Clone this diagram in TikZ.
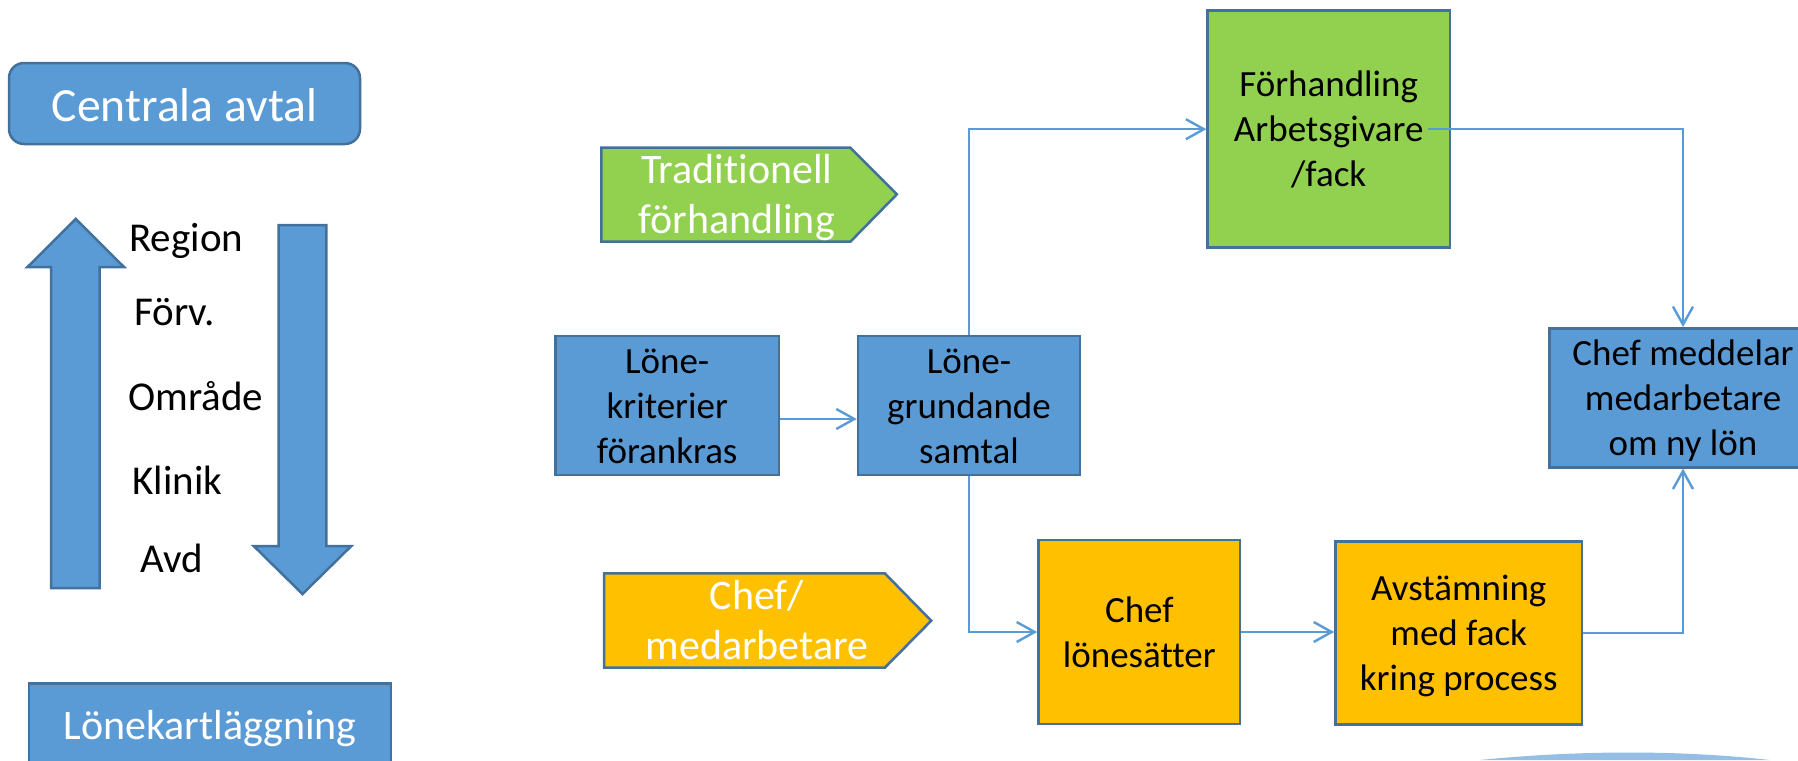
\documentclass[tikz,border=0pt]{standalone}
\usepackage{fontspec}
\setmainfont{Carlito}[Ligatures=NoCommon]
\usetikzlibrary{arrows.meta,calc}
\definecolor{bfill}{HTML}{5B9BD5}
\definecolor{bline}{HTML}{41719C}
\definecolor{gfill}{HTML}{92D050}
\definecolor{ofill}{HTML}{FFC000}
\newcommand\bst{\rule[-5pt]{0pt}{22.5pt}}
\newcommand\wst{\rule[-5.85pt]{0pt}{25pt}}
\tikzset{
 boxbase/.style={draw=bline, line width=1.25pt, inner sep=0pt},
 bluebox/.style={boxbase, fill=bfill},
 greenbox/.style={boxbase, fill=gfill},
 goldbox/.style={boxbase, fill=ofill},
 btext/.style={font=\fontsize{18.5pt}{22.5pt}\selectfont, text=black, align=center},
 wtext/.style={font=\fontsize{21pt}{25pt}\selectfont, text=white, align=center, inner sep=0pt},
 lvl/.style={font=\fontsize{20.5pt}{24pt}\selectfont, anchor=base west, inner sep=0pt},
 flow/.style={draw=bfill, line width=1.2pt, -{Straight Barb[length=9pt,width=10pt]}},
 blockarrow/.style={fill=bfill, draw=bline, line width=1.25pt, line join=miter},
 tagshape/.style={draw=bline, line width=1.25pt, line join=miter},
}
\begin{document}
\begin{tikzpicture}[x=0.5pt,y=-0.5pt]
\useasboundingbox (0,0) rectangle (1798,760);
\clip (0,0) rectangle (1798,760);
\fill[white] (0,0) rectangle (1798,760);

% bottom right swoosh
\fill[bfill!65!white] (1480,760) .. controls (1580,750) and (1680,750) .. (1770,760) -- cycle;

% left column
\node[bluebox, rounded corners=7.5pt, minimum width=175.5pt, minimum height=40.5pt,
      font=\fontsize{23.8pt}{28pt}\selectfont, text=white, text height=20pt, text depth=2.5pt]
      (central) at (184.5,103.5) {Centrala avtal};
\draw[blockarrow] (75.75,219) -- (124,267) -- (99.5,267) -- (99.5,588) -- (51,588) -- (51,267) -- (27.5,267) -- cycle;
\draw[blockarrow] (278.6,225) -- (326.4,225) -- (326.4,546) -- (351.3,546) -- (302.5,594) -- (253.7,546) -- (278.6,546) -- cycle;
\node[lvl] (region) at (129,251) {Region};
\node[lvl] (forv) at (134,325) {Förv.};
\node[lvl] (omrade) at (128,410.6) {Område};
\node[lvl] (klinik) at (132,494) {Klinik};
\node[lvl] (avd) at (140,572) {Avd};
\node[bluebox, minimum width=181.15pt, minimum height=43.7pt,
      font=\fontsize{21pt}{25pt}\selectfont, text=white, text height=16pt, text depth=4pt]
      (lonek) at (210,727) {Lönekartläggning};

% tags
\filldraw[tagshape, fill=gfill] (601.3,147.7) -- (850.4,147.7) -- (896.9,194.3) -- (850.4,241.7) -- (601.3,241.7) -- cycle;
\node[wtext] (trad) at (736.8,194.7) {Tradit\kern0pt ionell\wst\\förhandling\wst};
\filldraw[tagshape, fill=ofill] (604,573.3) -- (884.8,573.3) -- (931.2,620.7) -- (884.8,667.7) -- (604,667.7) -- cycle;
\node[wtext] (chefmed) at (756.9,621.2) {Chef/\wst\\medarbetare\wst};

% flow boxes
\node[bluebox, btext, minimum width=111.8pt, minimum height=69.5pt] (krit) at (667.2,405.5) {Löne-\bst\\kriterier\bst\\förankras\bst};
\node[bluebox, btext, minimum width=111pt, minimum height=69.5pt] (grund) at (969,405.5) {Löne-\bst\\grundande\bst\\samtal\bst};
\node[greenbox, btext, minimum width=121.1pt, minimum height=118.5pt] (forh) at (1328.7,129.2) {Förhandling\bst\\Arbetsgivare\bst\\/fack\bst};
\node[bluebox, btext, minimum width=133.7pt, minimum height=69.5pt] (medd) at (1683,397.8) {Chef meddelar\bst\\medarbetare\bst\\om ny lön\bst};
\node[goldbox, btext, minimum width=100.9pt, minimum height=92pt] (lon) at (1139.3,632) {Chef\bst\\lönesätter\bst};
\node[goldbox, btext, minimum width=123.3pt, minimum height=91.65pt] (avst) at (1458.7,633) {Avstämning\bst\\med fack\bst\\kring process\bst};

% connectors
\coordinate (kout) at ($(krit.east)+(0,13.5)$);
\draw[flow] (kout) -- (kout -| grund.west);
\draw[flow] (grund.north) |- (forh.west);
\coordinate (fout) at ($(forh.east)+(-22.8,0)$);
\draw[flow] (fout) -| (medd.north);
\draw[flow] (grund.south) |- (lon.west);
\draw[flow] (lon.east) -- (lon.east -| avst.west);
\draw[flow] (avst.east) -| (medd.south);
\end{tikzpicture}
\end{document}
